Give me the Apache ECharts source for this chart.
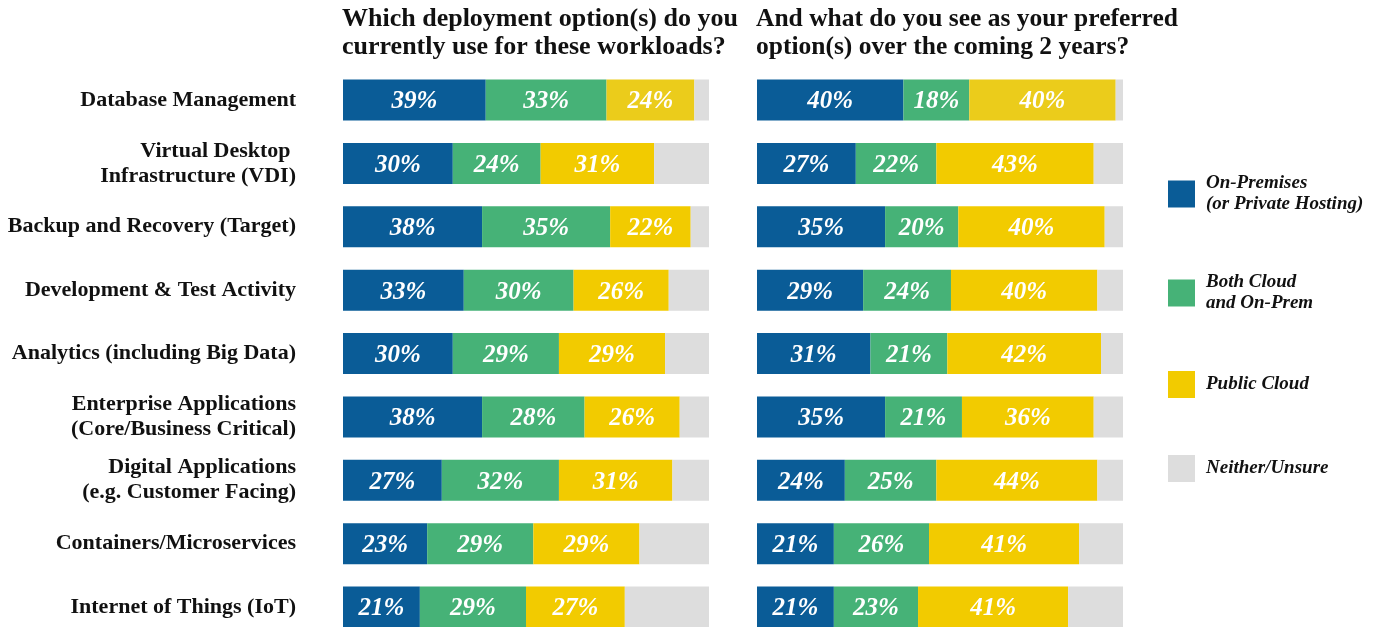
<!DOCTYPE html>
<html><head><meta charset="utf-8">
<script src="https://cdn.jsdelivr.net/npm/echarts@6/dist/echarts.min.js"></script>
<style>html,body{margin:0;padding:0;background:#fff}#c{width:1380px;height:627px}</style>
</head><body><div id="c"></div>
<script>
const categories = ['Database Management','Virtual Desktop \nInfrastructure (VDI)','Backup and Recovery (Target)','Development & Test Activity','Analytics (including Big Data)','Enterprise Applications\n(Core/Business Critical)','Digital Applications\n(e.g. Customer Facing)','Containers/Microservices','Internet of Things (IoT)'];
const seriesNames = ['On-Premises\n(or Private Hosting)','Both Cloud\nand On-Prem','Public Cloud','Neither/Unsure'];
const curOnPrem = [39,30,38,33,30,38,27,23,21];
const curBoth   = [33,24,35,30,29,28,32,29,29];
const curPublic = [24,31,22,26,29,26,31,29,27];
const curNeither= [4,15,5,11,12,8,10,19,23];
const futOnPrem = [40,27,35,29,31,35,24,21,21];
const futBoth   = [18,22,20,24,21,21,25,26,23];
const futPublic = [40,43,40,40,42,36,44,41,41];
const futNeither= [2,8,5,7,6,8,7,12,15];
const titles = ['Which deployment option(s) do you\ncurrently use for these workloads?','And what do you see as your preferred\noption(s) over the coming 2 years?'];

const colors = ['#0a5c97','#46b277','#f2cb00','#dddddd'];
const font = 'Liberation Serif';

function mk(name, data, idx, color, stack, hasLabel){
  return {
    type:'bar', name:name, data:data, xAxisIndex:idx, yAxisIndex:idx, stack:stack,
    barWidth:41, clip:false, silent:true,
    itemStyle:{color: color === colors[2] ? (p => p.dataIndex === 0 ? '#ebcc1b' : color) : color},
    label:{show:hasLabel, position:'inside', offset:[0,2], formatter:'{c}%', color:'#fff',
      fontFamily:font, fontWeight:'bold', fontStyle:'italic', fontSize:25}
  };
}
const chart = echarts.init(document.getElementById('c'));
const legendTops = [173,272,371,455];
chart.setOption({
  animation:false,
  title:[
    {text:titles[0], left:342, top:5, padding:0, textStyle:{fontFamily:font,fontWeight:'bold',fontSize:26,lineHeight:28,color:'#111'}},
    {text:titles[1], left:756, top:5, padding:0, textStyle:{fontFamily:font,fontWeight:'bold',fontSize:25.5,lineHeight:28,color:'#111'}}
  ],
  legend: seriesNames.map((n,i)=>({
    data:[{name:n, itemStyle:{color:colors[i]}}], left:1168, top:legendTops[i], padding:0, orient:'vertical', icon:'rect', itemWidth:27, itemHeight:27,
    selectedMode:false,
    textStyle:{fontFamily:font,fontWeight:'bold',fontStyle:'italic',fontSize:19,lineHeight:21,color:'#111',padding:[0,0,0,6]}
  })),
  grid:[
    {left:343, width:366, top:100, height:507},
    {left:757, width:366, top:100, height:507}
  ],
  xAxis:[
    {type:'value', gridIndex:0, min:0, max:100, show:false},
    {type:'value', gridIndex:1, min:0, max:100, show:false}
  ],
  yAxis:[
    {type:'category', gridIndex:0, data:categories, inverse:true, boundaryGap:false, axisLine:{show:false}, axisTick:{show:false}, splitLine:{show:false},
      axisLabel:{margin:47, fontFamily:font, fontWeight:'bold', fontSize:22, lineHeight:25, color:'#111', align:'right'}},
    {type:'category', gridIndex:1, data:categories, inverse:true, boundaryGap:false, show:false}
  ],
  series:[
    mk(seriesNames[0], curOnPrem, 0, colors[0], 'L', true),
    mk(seriesNames[1], curBoth, 0, colors[1], 'L', true),
    mk(seriesNames[2], curPublic, 0, colors[2], 'L', true),
    mk(seriesNames[3], curNeither, 0, colors[3], 'L', false),
    mk(seriesNames[0], futOnPrem, 1, colors[0], 'R', true),
    mk(seriesNames[1], futBoth, 1, colors[1], 'R', true),
    mk(seriesNames[2], futPublic, 1, colors[2], 'R', true),
    mk(seriesNames[3], futNeither, 1, colors[3], 'R', false)
  ]
});
</script></body></html>
